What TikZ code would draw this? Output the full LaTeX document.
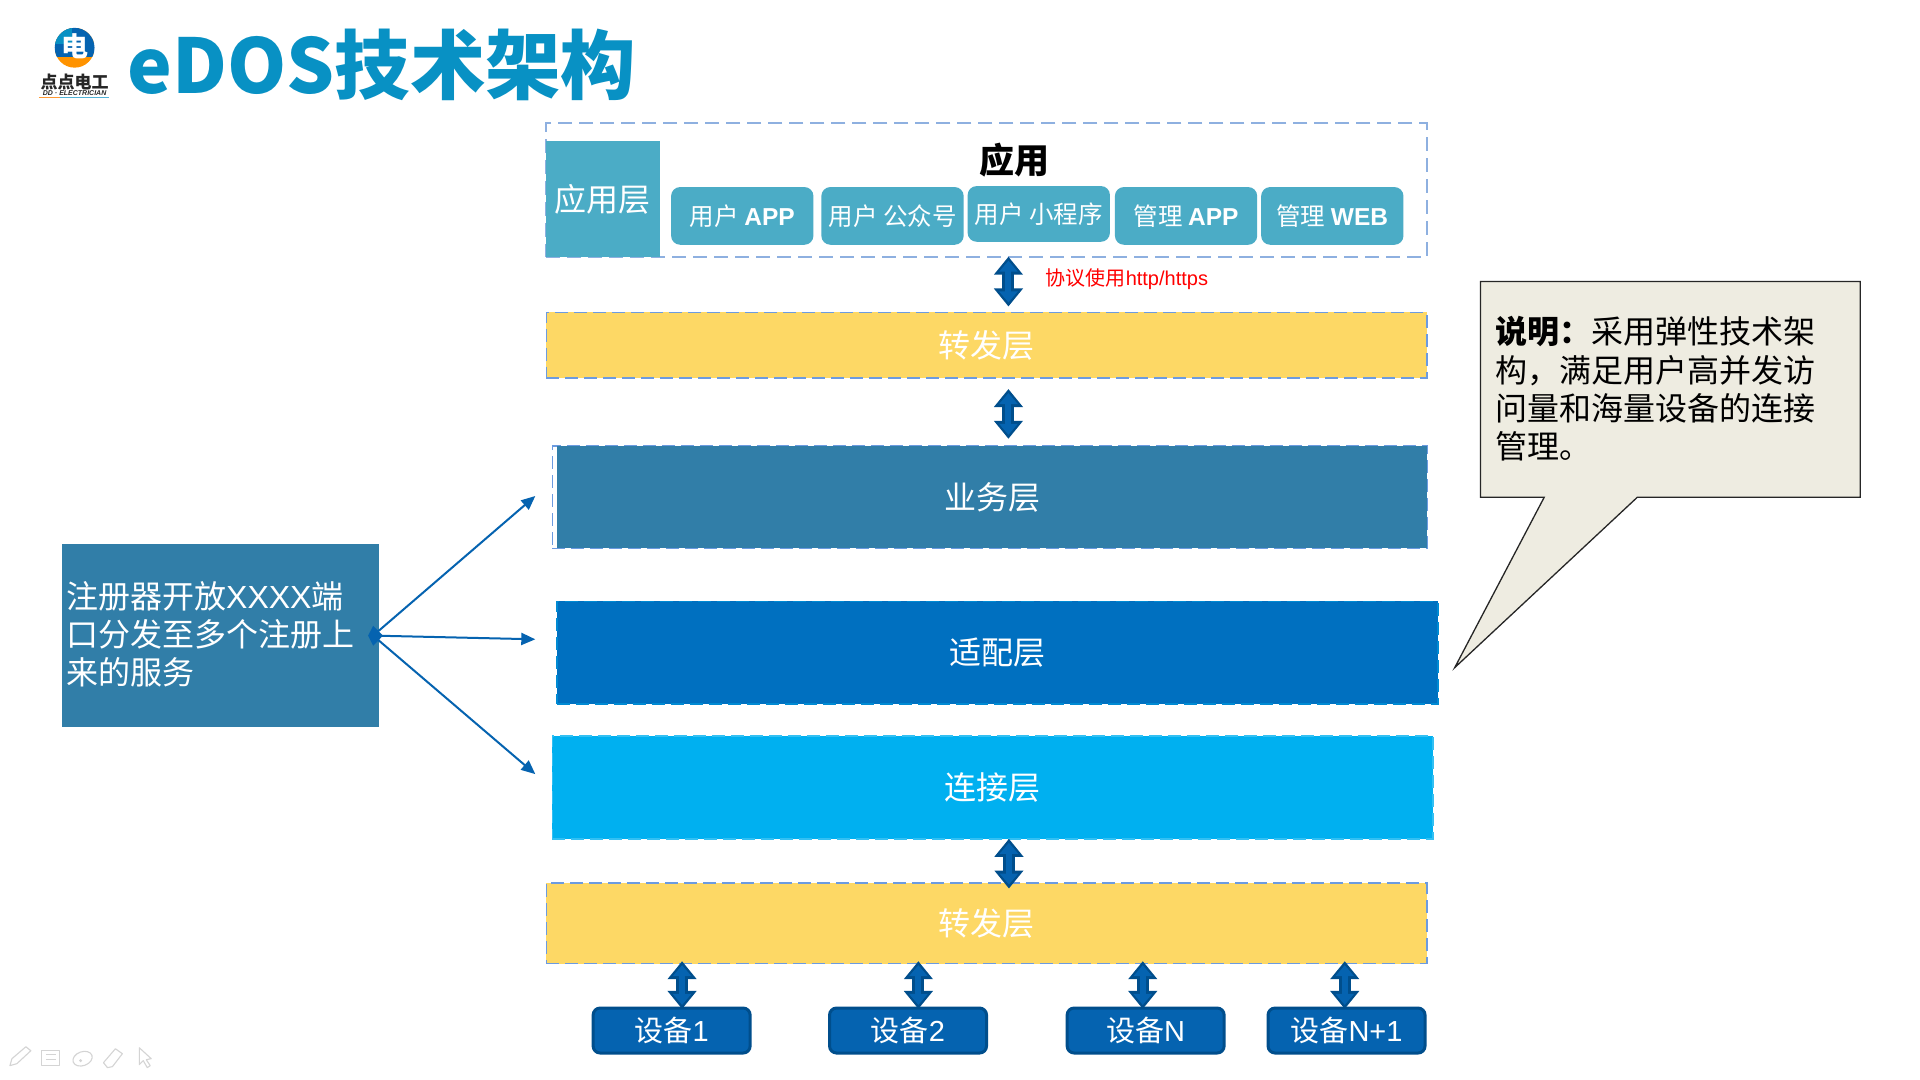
\documentclass[tikz,border=0pt]{standalone}
\usepackage{fontspec}
\usetikzlibrary{arrows.meta,calc}
\setmainfont{Liberation Sans}
\newfontfamily\cjk{Noto Sans CJK SC}
\newcommand{\lat}{\rmfamily}
\definecolor{titleblue}{HTML}{0891C4}
\definecolor{teal}{HTML}{4BACC6}
\definecolor{yell}{HTML}{FDD865}
\definecolor{steel}{HTML}{317EA8}
\definecolor{adapt}{HTML}{0070C0}
\definecolor{conn}{HTML}{00B0F0}
\definecolor{dash1}{HTML}{8EB0E0}
\definecolor{dash2}{HTML}{6C9BE0}
\definecolor{darkb}{HTML}{004E8C}
\definecolor{midb}{HTML}{0563B0}
\definecolor{note}{HTML}{EEECE1}
\definecolor{icon}{HTML}{D4D4D4}
\tikzset{
  x=.995pt,y=-.995pt,
  every node/.style={inner sep=0pt,outer sep=0pt,font=\cjk},
  layer/.style={rectangle,text=white,font={\fontsize{32}{38}\cjk}},
  dashedge/.style={draw=dash2,line width=1.4pt,dash pattern=on 13pt off 6pt},
  appbtn/.style={rectangle,rounded corners=9pt,fill=teal,text=white,minimum width=142.3pt,minimum height=57.7pt,font={\fontsize{24.5}{28}\cjk}},
  device/.style={rectangle,rounded corners=7pt,fill=midb,draw=darkb,line width=3pt,text=white,minimum width=157pt,minimum height=45pt,font={\fontsize{29}{32}\cjk}},
  dbl/.style={preaction={draw=darkb,line width=12pt,shorten <=0pt,shorten >=0pt,{Triangle[length=18pt,width=28pt]}-{Triangle[length=18pt,width=28pt]}},
    draw=midb,line width=6pt,shorten <=4pt,shorten >=4pt,{Triangle[length=11pt,width=18pt]}-{Triangle[length=11pt,width=18pt]}},
  thinarrow/.style={draw=midb,line width=2pt,-{Triangle[length=14pt,width=12pt]}},
  para/.style={align=left,anchor=north west,font={\fontsize{32}{38.3}\cjk}},
  iconline/.style={draw=icon,line width=1.1pt,line join=round}
}
\begin{document}
\begin{tikzpicture}
\useasboundingbox (0,0) rectangle (1929.65,1085.43);
\fill[white] (0,0) rectangle (1929.65,1085.43);

% logo
\begin{scope}
\clip (75,48) circle (20);
\fill[orange!85!yellow] (55,28) rectangle (95,68);
\fill[midb] (50,24) rectangle (100,57);
\fill[titleblue] (52,24) rectangle (72,44);
\end{scope}
\node[text=white,font={\fontsize{27}{27}\cjk\bfseries}] (logomark) at (75,46) {电};
\node[font={\fontsize{17}{17}\cjk\bfseries},text=black!85] (logoname) at (75,82.5) {点点电工};
\node[font={\fontsize{7}{7}\bfseries\itshape},text=black!85] (logosub) at (75,94) {DD · ELECTRICIAN};
\draw[orange!80,line width=1pt] (39,98) -- (60,98);
\draw[titleblue!70,line width=1pt] (60,98) -- (110,98);

% title
\node[anchor=west,text=titleblue,font={\fontsize{75.4}{80}\cjk\bfseries}] (title) at (128,65) {eDOS技术架构};

% application frame
\node[rectangle,draw=dash1,line width=1.8pt,dash pattern=on 14pt off 7pt,minimum width=880.6pt,minimum height=133.8pt] (appframe) at (991.5,191.2) {};
\node[layer,fill=teal,minimum width=113.4pt,minimum height=116.4pt] (applayer) at (606,200) {};
\node[text=white,font={\fontsize{32}{38}\cjk}] (applabel) at (606,200) {应用层};
\node[font={\fontsize{35}{38}\cjk\bfseries},text=black] (apptitle) at (1020,161) {应用};
\node[appbtn] (b1) at (746,217) {用户 {\lat\bfseries APP}};
\node[appbtn] (b2) at (897,217) {用户 公众号};
\node[appbtn,minimum height=55.7pt] (b3) at (1044,215) {用户 小程序};
\node[appbtn] (b4) at (1192,217) {管理 {\lat\bfseries APP}};
\node[appbtn] (b5) at (1339,217) {管理 {\lat\bfseries WEB}};

% layers
\node[layer,fill=yell,dashedge,minimum width=880.6pt,minimum height=65.7pt] (fwd1) at (991.5,347) {转发层};
\node[rectangle,dashedge,minimum width=874.6pt,minimum height=102.5pt] (bizframe) at (994.5,499.7) {};
\node[layer,fill=steel,minimum width=869.6pt,minimum height=102.5pt] (biz) at (997,499.7) {业务层};
\node[layer,fill=adapt,dashedge,draw=conn!40!adapt,minimum width=880.6pt,minimum height=102.9pt] (adapter) at (1002.5,656) {适配层};
\node[layer,fill=conn,dashedge,draw=conn!80!white,minimum width=880.6pt,minimum height=102.9pt] (connect) at (997.5,791.4) {连接层};
\node[layer,fill=yell,dashedge,minimum width=880.6pt,minimum height=80.6pt] (fwd2) at (991.5,928) {转发层};

% devices
\node[device] (d1) at (675,1035.7) {设备{\lat 1}};
\node[device] (d2) at (912.6,1035.7) {设备{\lat 2}};
\node[device] (d3) at (1151.4,1035.7) {设备{\lat N}};
\node[device] (d4) at (1353.3,1035.7) {设备{\lat N+1}};

% protocol label
\node[anchor=west,text=red,font={\fontsize{20}{22}\cjk}] (proto) at (1051,281) {协议使用{\lat http/https}};

% block arrows
\coordinate (a1t) at (1013.5,258);   \coordinate (a1b) at (1013.5,308);
\coordinate (a2t) at (1013.5,391);   \coordinate (a2b) at (1013.5,441);
\coordinate (a3t) at (1014,843);     \coordinate (a3b) at (1014,893);
\coordinate (a4t) at (685.5,966);    \coordinate (a4b) at (685.5,1014);
\coordinate (a5t) at (923,966);      \coordinate (a5b) at (923,1014);
\coordinate (a6t) at (1148.5,966);   \coordinate (a6b) at (1148.5,1014);
\coordinate (a7t) at (1351.5,966);   \coordinate (a7b) at (1351.5,1014);
\foreach \n in {1,...,7} {\path[dbl] (a\n t) -- (a\n b);}

% left box
\node[rectangle,fill=steel,minimum width=316.4pt,minimum height=183.7pt] (reg) at (221.5,638.7) {};
\node[text=white,para] (regtext) at (66.5,584) {注册器开放{\lat XXXX}端\\口分发至多个注册上\\来的服务};
\coordinate (src) at (375,638.8);
\coordinate (t1) at (538,498.5);
\coordinate (t2) at (538,642.5);
\coordinate (t3) at (538,778);
\fill[midb] (370,638.8) -- (375,629) -- (385,638.8) -- (375,649) -- cycle;
\draw[thinarrow] (src) -- (t1);
\draw[thinarrow] (src) -- (t2);
\draw[thinarrow] (src) -- (t3);

% callout
\draw[fill=note,draw=black!85,line width=1.3pt,line join=miter] (1488,283) -- (1869.6,283) -- (1869.6,499.7) -- (1645.6,499.7) -- (1462,671) -- (1552,499.7) -- (1488,499.7) -- cycle;
\node[text=black,para] (notetext) at (1503,318) {{\bfseries 说明：}采用弹性技术架\\构，满足用户高并发访\\问量和海量设备的连接\\管理。};

% toolbar icons
\draw[iconline] (10,1071) -- (12,1064) -- (26,1052) -- (31,1056) -- (17,1069) -- cycle;
\draw[iconline] (42,1056) rectangle (60,1071);
\draw[iconline] (46,1060) -- (56,1060) (46,1065) -- (56,1065);
\draw[iconline,rotate around={20:(83,1064)}] (83,1064) ellipse (10 and 7);
\fill[icon] (81,1066) circle (1.6);
\draw[iconline] (104,1068) -- (116,1054) -- (123,1059) -- (113,1072) -- (108,1073) -- cycle;
\draw[iconline] (140,1053) -- (140,1070) -- (144,1066) -- (148,1073) -- (151,1071) -- (147,1065) -- (152,1064) -- cycle;
\end{tikzpicture}
\end{document}
